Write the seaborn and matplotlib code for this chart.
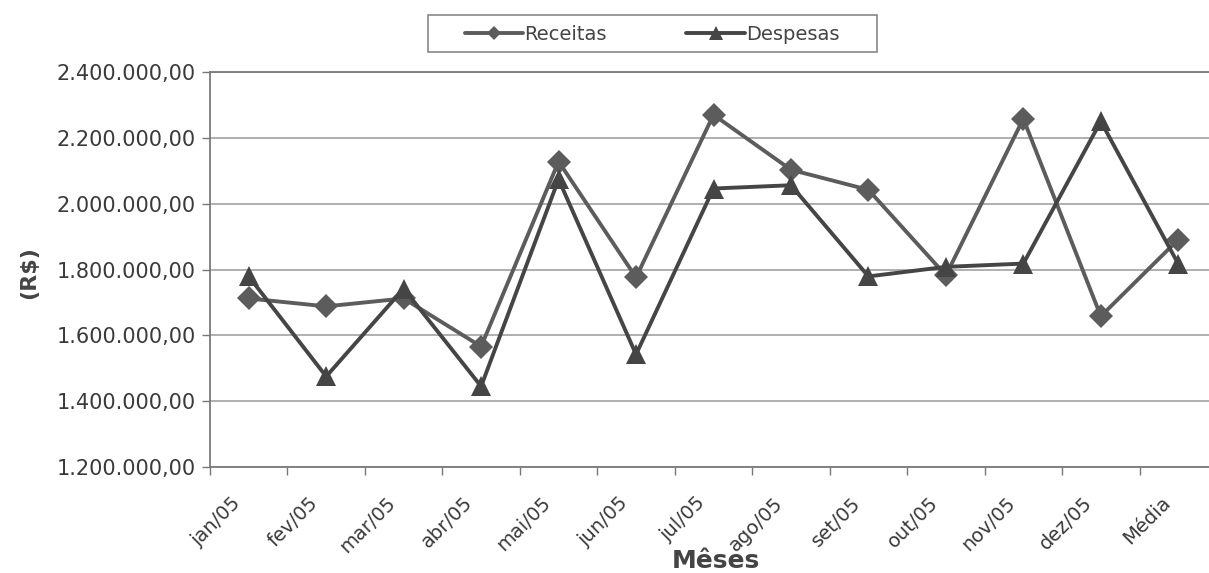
import matplotlib
matplotlib.use("Agg")
import matplotlib.pyplot as plt
import matplotlib.transforms as mtransforms
import seaborn as sns
import pandas as pd
import numpy as np
from matplotlib.ticker import FuncFormatter, FixedLocator, NullFormatter
from matplotlib.lines import Line2D
from matplotlib.patches import Rectangle

categories = ["jan/05", "fev/05", "mar/05", "abr/05", "mai/05", "jun/05", "jul/05",
              "ago/05", "set/05", "out/05", "nov/05", "dez/05", "Média"]
receitas = [1712000, 1688000, 1712000, 1566000, 2128000, 1776000, 2270000,
            2103000, 2042000, 1782000, 2258000, 1658000, 1891000]
despesas = [1779000, 1475000, 1742000, 1445000, 2074000, 1542000, 2046000,
            2056000, 1779000, 1808000, 1818000, 2250000, 1817000]
yticks = [1200000, 1400000, 1600000, 1800000, 2000000, 2200000, 2400000]

sns.set_theme(style="white")
plt.rcParams['font.family'] = ['DejaVu Sans']

pos = list(range(len(categories)))
df = pd.DataFrame({
    "pos": pos * 2,
    "valor": receitas + despesas,
    "serie": ["Receitas"] * len(categories) + ["Despesas"] * len(categories),
})

fig = plt.figure(figsize=(12.09, 5.73), dpi=100)
W, H = 1209, 573
left, right, top, bottom = 210, 1217, 72, 467
ax = fig.add_axes([left / W, 1 - bottom / H, (right - left) / W, (bottom - top) / H])

palette = {"Receitas": "#5c5c5c", "Despesas": "#454545"}
markers = {"Receitas": "D", "Despesas": "^"}
sns.lineplot(data=df, x="pos", y="valor", hue="serie", style="serie",
             palette=palette, markers=markers, dashes=False, sort=False,
             linewidth=2.8, markersize=12, markeredgewidth=0, ax=ax, legend=False)
for ln in ax.lines:
    if ln.get_marker() == "^":
        ln.set_markersize(14)

ax.set_xlim(-0.5, len(categories) - 0.5)
ax.set_ylim(yticks[0], yticks[-1])
ax.set_yticks(yticks)
ax.yaxis.set_major_formatter(FuncFormatter(
    lambda v, p: f"{v:,.2f}".replace(",", "X").replace(".", ",").replace("X", ".")))
ax.grid(axis="y", color="#9a9a9a", linewidth=1.1)
ax.grid(axis="x", visible=False)
ax.set_axisbelow(True)

# x category labels (rotated), placed at each category position
ax.xaxis.set_major_locator(FixedLocator(pos))
ax.xaxis.set_major_formatter(NullFormatter())
ax.tick_params(axis="x", which="major", length=0)
blend = mtransforms.blended_transform_factory(ax.transData, ax.transAxes)
offset = mtransforms.ScaledTranslation(-11 / 100, -33 / 100, fig.dpi_scale_trans)
for p, cat in zip(pos, categories):
    ax.text(p, 0, cat, transform=blend + offset, rotation=45, ha="right", va="center",
            rotation_mode="anchor", fontsize=14, color="#3a3a3a")

ax.xaxis.set_minor_locator(FixedLocator([p + 0.5 for p in pos[:-1]] + [-0.5]))
ax.tick_params(axis="x", which="minor", length=6, width=1, color="#777777", direction="out", bottom=True)
ax.tick_params(axis="y", length=6, width=1, color="#777777", direction="out", left=True,
               labelsize=15, labelcolor="#3a3a3a", pad=4)

for s in ax.spines.values():
    s.set_color("#7a7a7a")
    s.set_linewidth(1.3)

ax.set_xlabel("")
ax.set_ylabel("")
fig.text(716 / W, 1 - 561 / H, "Mêses", ha="center", va="center",
         fontsize=18, fontweight="bold", color="#444444")
fig.text(29 / W, 1 - 273 / H, "(R$)", ha="center", va="center", rotation=90,
         fontsize=16, fontweight="bold", color="#444444")

# legend frame
fig.patches.append(Rectangle((428 / W, 1 - 52 / H), (877 - 428) / W, 37 / H,
                             transform=fig.transFigure, fill=False,
                             edgecolor="#888888", linewidth=1.2))
handles = [Line2D([], [], color=palette["Receitas"], marker="D", markersize=7, linewidth=2.8, markeredgewidth=0),
           Line2D([], [], color=palette["Despesas"], marker="^", markersize=10, linewidth=2.8, markeredgewidth=0)]
leg = fig.legend(handles, ["Receitas", "Despesas"], loc="center", ncol=2,
                 bbox_to_anchor=(652 / W, 1 - 34 / H), frameon=False,
                 fontsize=14, handlelength=3.0, handletextpad=0.05, columnspacing=4.1,
                 borderpad=0.0, borderaxespad=0, labelcolor="#444444")

fig.savefig("out.png", dpi=100)
